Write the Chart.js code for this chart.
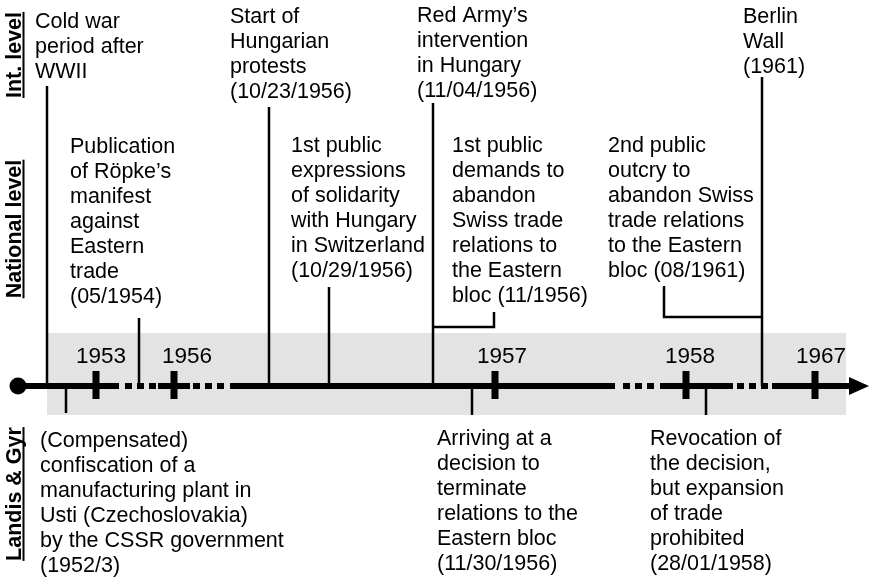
<!DOCTYPE html>
<html>
<head>
<meta charset="utf-8">
<script src="https://cdn.jsdelivr.net/npm/chart.js@4/dist/chart.umd.min.js"></script>
<style>
  body { margin: 0; background: #fff; }
  #wrap { width: 869px; height: 583px; }
</style>
</head>
<body>
<div id="wrap"><canvas id="timeline" width="869" height="583"></canvas></div>
<script>
// Timeline data (positions along the drawn axis, 0..869 units)
const years = ['1953', '1956', '1957', '1958', '1967'];
const yearTicks = [96, 174, 495, 686, 815];
const yearLabelPos = [101, 187, 502, 690, 821];

// Axis pieces: continuous stretches and compressed (dotted) stretches
const solidStretches = [[18, 119], [158, 190], [230, 615], [660, 733], [772, 851]];
const dottedStretches = [[125, 156], [193, 224], [623, 654], [737, 768]];

// Level labels on the left
const levels = ['Int. level', 'National level', 'Landis & Gyr'];
const levelCenters = [55, 229, 494];

// Events
const eventTexts = [
    ['Cold war', 'period after', 'WWII'],
    ['Start of', 'Hungarian', 'protests', '(10/23/1956)'],
    ['Red Army\u2019s', 'intervention', 'in Hungary', '(11/04/1956)'],
    ['Berlin', 'Wall', '(1961)'],
    ['Publication', 'of R\u00f6pke\u2019s', 'manifest', 'against', 'Eastern', 'trade', '(05/1954)'],
    ['1st public', 'expressions', 'of solidarity', 'with Hungary', 'in Switzerland', '(10/29/1956)'],
    ['1st public', 'demands to', 'abandon', 'Swiss trade', 'relations to', 'the Eastern', 'bloc (11/1956)'],
    ['2nd public', 'outcry to', 'abandon Swiss', 'trade relations', 'to the Eastern', 'bloc (08/1961)'],
    ['(Compensated)', 'confiscation of a', 'manufacturing plant in', 'Usti (Czechoslovakia)', 'by the CSSR government', '(1952/3)'],
    ['Arriving at a', 'decision to', 'terminate', 'relations to the', 'Eastern bloc', '(11/30/1956)'],
    ['Revocation of', 'the decision,', 'but expansion', 'of trade', 'prohibited', '(28/01/1958)']
];
// where each event sits on the axis
const eventPos = [47, 269, 433, 762, 139, 329, 494, 664, 66, 472, 706];

// Layout of the event captions and connectors
const textLeft = [35, 230, 417, 743, 70, 291, 452, 608, 40, 437, 650];
const textBaseline = [28, 23, 22, 23, 153, 152, 152, 152, 447, 445, 445];
const stemEnd = [86, 107, 103, 77, 318, 287, 312, 286, 413, 415, 415];
const joinTo = [null, null, null, null, null, null, 433, 762, null, null, null];
const joinY = [null, null, null, null, null, null, 327, 317, null, null, null];

const AXIS_Y = 386;
const LINE_H = 25;
const FONT = '"Liberation Sans", Arial, sans-serif';

function stretches(list, y) {
    return list.flatMap(([a, b]) => [{x: a, y: y}, {x: b, y: y}, {x: b, y: null}]);
}

function connectors() {
    const pts = [];
    eventPos.forEach((x, i) => {
        if (joinTo[i] !== null) {
            pts.push({x: x, y: stemEnd[i]}, {x: x, y: joinY[i]}, {x: joinTo[i], y: joinY[i]}, {x: joinTo[i], y: null});
        } else {
            pts.push({x: x, y: stemEnd[i]}, {x: x, y: AXIS_Y}, {x: x, y: null});
        }
    });
    return pts;
}

const tickPoints = yearTicks.flatMap(x => [{x: x, y: 371}, {x: x, y: 399}, {x: x, y: null}]);

// Captions and labels drawn through the scales
const captionPlugin = {
    id: 'captions',
    afterDatasetsDraw(chart) {
        const ctx = chart.ctx;
        const xs = chart.scales.x;
        const ys = chart.scales.y;
        ctx.save();
        ctx.fillStyle = '#000';
        ctx.textBaseline = 'alphabetic';

        // event captions
        ctx.font = '21.5px ' + FONT;
        ctx.textAlign = 'left';
        eventTexts.forEach((lines, i) => {
            lines.forEach((line, j) => {
                ctx.fillText(line, xs.getPixelForValue(textLeft[i]), ys.getPixelForValue(textBaseline[i] + j * LINE_H));
            });
        });

        // year labels
        ctx.font = '22.5px ' + FONT;
        ctx.textAlign = 'center';
        years.forEach((y, i) => {
            ctx.fillText(y, xs.getPixelForValue(yearLabelPos[i]), ys.getPixelForValue(363));
        });

        // rotated level labels, underlined
        ctx.font = 'bold 21.5px ' + FONT;
        levels.forEach((lab, i) => {
            const cx = xs.getPixelForValue(20.5);
            const cy = ys.getPixelForValue(levelCenters[i]);
            ctx.save();
            ctx.translate(cx, cy);
            ctx.rotate(-Math.PI / 2);
            ctx.textAlign = 'center';
            ctx.fillText(lab, 0, 0);
            const w = ctx.measureText(lab).width;
            ctx.fillRect(-w / 2, 2, w, 2);
            ctx.restore();
        });
        ctx.restore();
    }
};

new Chart(document.getElementById('timeline'), {
    type: 'line',
    data: {
        datasets: [
            {
                label: 'start',
                data: [{x: 18, y: AXIS_Y}],
                showLine: false,
                pointRadius: 8.5,
                pointBackgroundColor: '#000',
                pointBorderWidth: 0
            },
            {
                label: 'arrow',
                data: [{x: 849, y: 377}, {x: 869, y: 386}, {x: 849, y: 395}, {x: 849, y: 377}],
                borderWidth: 0,
                pointRadius: 0,
                fill: 'shape',
                backgroundColor: '#000'
            },
            {
                label: 'ticks',
                data: tickPoints,
                borderColor: '#000',
                borderWidth: 7,
                borderCapStyle: 'butt',
                pointRadius: 0
            },
            {
                label: 'solid',
                data: stretches(solidStretches, AXIS_Y),
                borderColor: '#000',
                borderWidth: 6,
                borderCapStyle: 'butt',
                pointRadius: 0
            },
            {
                label: 'dotted',
                data: stretches(dottedStretches, AXIS_Y),
                borderColor: '#000',
                borderWidth: 6,
                borderDash: [7, 5],
                borderCapStyle: 'butt',
                pointRadius: 0
            },
            {
                label: 'connectors',
                data: connectors(),
                borderColor: '#000',
                borderWidth: 2.5,
                borderCapStyle: 'butt',
                borderJoinStyle: 'miter',
                pointRadius: 0
            },
            {
                label: 'band',
                data: [{x: 47, y: 333}, {x: 846, y: 333}, {x: 846, y: 415}, {x: 47, y: 415}, {x: 47, y: 333}],
                borderWidth: 0,
                pointRadius: 0,
                fill: 'shape',
                backgroundColor: '#e3e3e3',
                order: 10
            }
        ]
    },
    options: {
        responsive: false,
        animation: false,
        layout: { padding: 0, autoPadding: false },
        scales: {
            x: { type: 'linear', min: 0, max: 869, display: false },
            y: { type: 'linear', min: 0, max: 583, reverse: true, display: false }
        },
        plugins: {
            legend: { display: false },
            tooltip: { enabled: false }
        },
        elements: { line: { tension: 0 } }
    },
    plugins: [captionPlugin]
});
</script>
</body>
</html>
